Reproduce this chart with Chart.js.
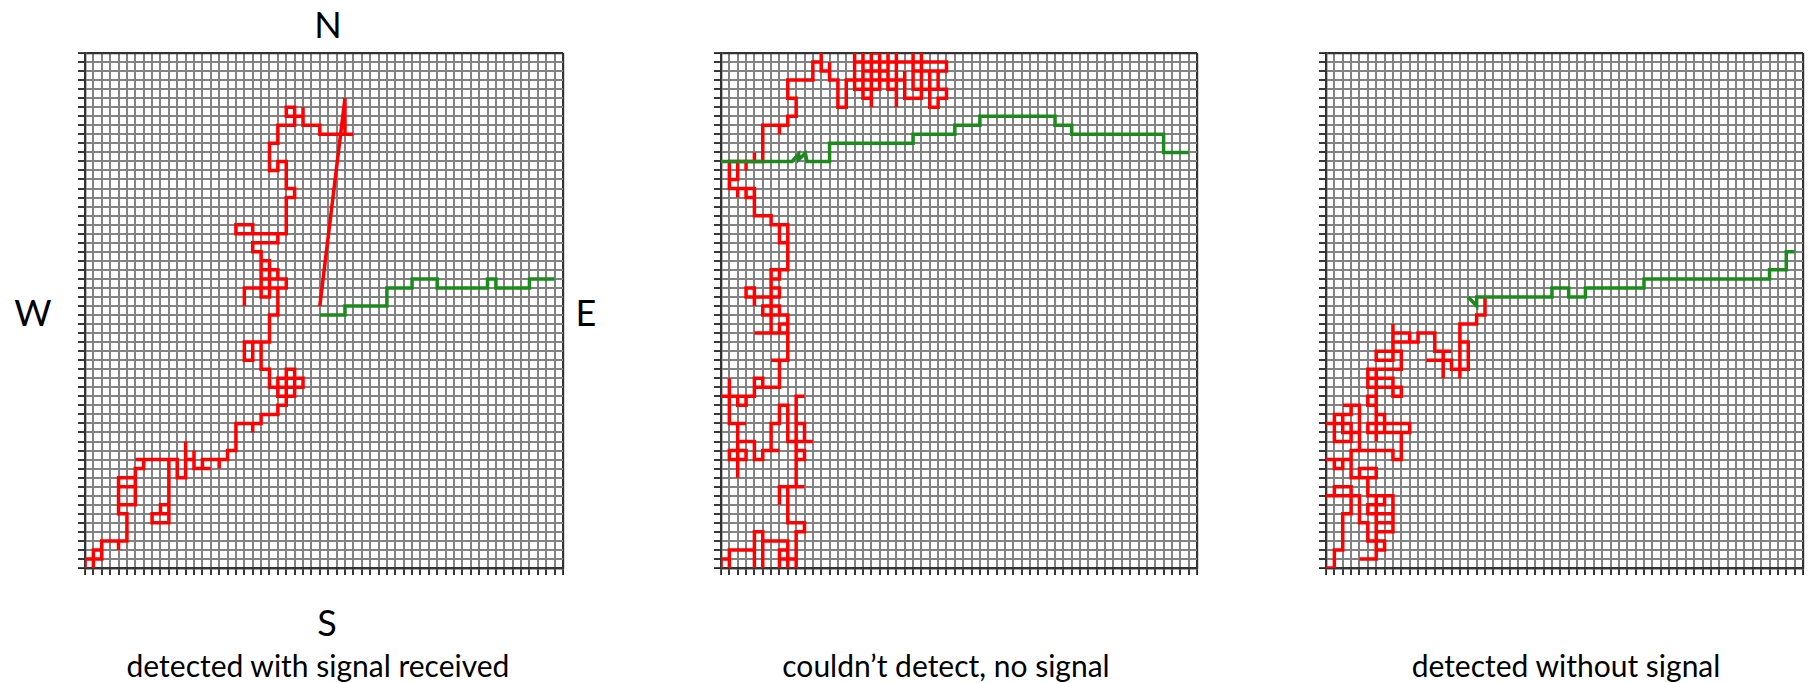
<!DOCTYPE html>
<html>
<head>
<meta charset="utf-8">
<script src="https://cdn.jsdelivr.net/npm/chart.js@4.4.1/dist/chart.umd.min.js"></script>
<style>
  body { margin: 0; background: #fff; width: 1810px; height: 683px; position: relative; overflow: hidden; font-family: Lato, "Open Sans", sans-serif; }
  .panel { position: absolute; }
  .lbl { position: absolute; transform: translate(-50%, -50%); color: #000; white-space: nowrap; line-height: 1; }
  .compass { font-size: 36px; }
  .caption { font-size: 30px; }
</style>
</head>
<body>
<script>
// grid size (cells)
const gridCols = 57;
const gridRows = 57;

// panel 1 : detected with signal received
const red1 = [[0,0],[0,1],[2,1],[2,2],[1,2],[1,0],[1,2],[2,2],[2,3],[4,3],[4,2],[4,3],[5,3],[5,6],[4,6],[4,10],[6,10],[6,9],[4,9],[4,7],[6,7],[6,11],[7,11],[7,12],[6,12],[10,12],[10,5],[8,5],[8,6],[10,6],[9,6],[9,7],[10,7],[10,12],[11,12],[11,10],[12,10],[12,14],[12,12],[13,12],[13,13],[13,11],[15,11],[14,11],[14,12],[16,12],[16,11],[16,12],[17,12],[17,13],[18,13],[18,16],[20,16],[20,15],[20,16],[21,16],[21,17],[23,17],[23,18],[24,18],[24,22],[25,22],[25,19],[23,19],[23,21],[26,21],[26,20],[22,20],[22,22],[21,22],[21,25],[19,25],[19,23],[20,23],[20,25],[22,25],[22,28],[23,28],[23,31],[19,31],[19,29],[19,31],[24,31],[24,32],[21,32],[21,30],[22,30],[22,34],[21,34],[21,33],[23,33],[23,32],[21,32],[21,35],[20,35],[20,36],[23,36],[23,37],[20,37],[20,38],[18,38],[18,37],[24,37],[24,41],[25,41],[25,42],[24,42],[24,45],[23,45],[23,44],[22,44],[22,47],[23,47],[23,49],[25,49],[25,51],[24,51],[24,50],[26,50],[26,51],[26,49],[28,49],[28,48],[32,48],[31,48],[31,52],[28,29]];
const green1 = [[28,28],[31,28],[31,29],[36,29],[36,31],[39,31],[39,32],[42,32],[42,31],[48,31],[48,32],[49,32],[49,31],[53,31],[53,32],[56,32]];

// panel 2 : couldn't detect, no signal
const red2 = [[0,0],[0,1],[1,1],[1,0],[1,2],[4,2],[4,0],[4,4],[5,4],[5,0],[5,3],[8,3],[8,0],[8,2],[7,2],[7,0],[7,1],[9,1],[9,0],[9,4],[10,4],[10,5],[8,5],[8,9],[7,9],[7,7],[7,9],[10,9],[9,9],[9,13],[10,13],[10,12],[9,12],[9,14],[11,14],[10,14],[10,16],[9,16],[9,19],[10,19],[9,19],[9,14],[8,14],[8,18],[7,18],[7,16],[6,16],[6,13],[7,13],[5,13],[5,12],[4,12],[4,14],[2,14],[2,13],[3,13],[3,12],[1,12],[1,13],[2,13],[2,10],[2,16],[3,16],[1,16],[1,21],[1,19],[0,19],[3,19],[3,18],[2,18],[2,19],[4,19],[4,21],[5,21],[5,20],[4,20],[7,20],[7,23],[6,23],[8,23],[8,27],[7,27],[7,26],[4,26],[8,26],[8,28],[5,28],[5,29],[7,29],[7,28],[6,28],[6,30],[4,30],[4,29],[4,31],[3,31],[3,30],[4,30],[7,30],[7,31],[6,31],[6,26],[6,33],[7,33],[7,32],[6,32],[6,33],[8,33],[8,38],[7,38],[7,36],[8,36],[8,38],[6,38],[6,39],[4,39],[4,42],[3,42],[3,41],[4,41],[4,42],[2,42],[2,41],[2,42],[1,42],[1,45],[2,45],[2,43],[1,43],[1,45],[3,45],[3,44],[3,45],[4,45],[4,46],[4,45],[5,45],[5,49],[8,49],[7,49],[7,48],[7,49],[8,49],[8,50],[9,50],[9,52],[8,52],[8,54],[11,54],[11,56],[12,56],[12,57],[12,55],[13,55],[13,54],[13,56],[13,54],[14,54],[14,51],[15,51],[15,54],[16,54],[16,57],[16,53],[19,53],[19,57],[18,57],[18,51],[18,52],[17,52],[17,57],[17,55],[20,55],[20,57],[20,53],[21,53],[21,51],[21,57],[21,56],[16,56],[27,56],[27,55],[23,55],[23,57],[23,53],[27,53],[27,52],[26,52],[26,51],[25,51],[25,55],[26,55],[26,53],[24,53],[24,57],[24,52],[22,52],[22,55],[22,54],[16,54]];
const green2 = [[0,45],[8.5,45],[9.3,45.8],[9.3,45.2],[10.1,45.9],[10.3,45],[13,45],[13,47],[23,47],[23,48],[28,48],[28,49],[31,49],[31,50],[40,50],[40,49],[42,49],[42,48],[53,48],[53,46],[56,46]];

// panel 3 : detected without signal
const red3 = [[0,0],[1,0],[1,2],[2,2],[2,6],[3,6],[3,9],[1,9],[1,8],[0,8],[4,8],[4,5],[5,5],[5,3],[7,3],[7,2],[6,2],[6,1],[4,1],[6,1],[6,8],[8,8],[8,4],[6,4],[6,5],[8,5],[8,6],[5,6],[5,7],[7,7],[7,8],[5,8],[5,10],[4,10],[4,11],[6,11],[6,10],[3,10],[3,12],[2,12],[2,11],[1,11],[1,12],[0,12],[3,12],[3,13],[4,13],[4,15],[2,15],[2,17],[1,17],[1,14],[3,14],[3,16],[0,16],[1,16],[1,17],[3,17],[3,18],[2,18],[4,18],[4,13],[8,13],[8,12],[9,12],[9,15],[5,15],[5,16],[10,16],[10,15],[7,15],[7,17],[6,17],[6,14],[6,19],[5,19],[5,18],[6,18],[6,22],[5,22],[5,20],[9,20],[9,19],[8,19],[8,21],[5,21],[5,22],[9,22],[9,24],[6,24],[6,23],[8,23],[8,27],[8,26],[10,26],[10,25],[8,25],[10,25],[11,25],[11,26],[13,26],[13,24],[15,24],[14,24],[14,21],[14,23],[12,23],[15,23],[15,22],[17,22],[17,25],[16,25],[16,21],[16,27],[18,27],[18,28],[19,28],[19,30]];
const green3 = [[17,30],[18,29],[18,30],[27,30],[27,31],[29,31],[29,30],[31,30],[31,31],[38,31],[38,32],[53,32],[53,33],[55,33],[55,35],[56,35]];

const captions = ['detected with signal received', 'couldn\u2019t detect, no signal', 'detected without signal'];
const compass = ['N', 'W', 'E', 'S'];

// layout (pixels)
const panelBoxes = [
  { left: 85, top: 53, width: 478, height: 515 },
  { left: 721, top: 53, width: 476, height: 515 },
  { left: 1326, top: 53, width: 477, height: 515 }
];
const compassSpots = [[328, 24], [33, 312], [586, 312], [327, 622]];
const captionSpots = [[318, 665], [946, 665], [1566, 665]];
const TICK = 7;
const PAD = 4;

const RED = '#ff0000';
const GREEN = '#1d8a1d';

function toPoints(path) {
  return path.map(p => ({ x: p[0], y: p[1] }));
}

function axis(max) {
  const edge = c => c.tick && (c.tick.value === 0 || c.tick.value === max);
  return {
    type: 'linear',
    min: 0,
    max: max,
    ticks: { display: false, stepSize: 1, maxTicksLimit: 200 },
    grid: {
      color: c => edge(c) ? '#333333' : '#828282',
      lineWidth: c => edge(c) ? 2.2 : 2,
      drawTicks: true,
      tickLength: TICK,
      tickColor: '#222222',
      tickWidth: 1.8
    },
    border: { display: true, color: '#333', width: 2.2 }
  };
}

function drawPanel(i, red, green) {
  const box = panelBoxes[i];
  const wrap = document.createElement('div');
  wrap.className = 'panel';
  wrap.style.left = (box.left - TICK) + 'px';
  wrap.style.top = (box.top - PAD) + 'px';
  const canvas = document.createElement('canvas');
  canvas.width = box.width + TICK + PAD;
  canvas.height = box.height + TICK + PAD;
  wrap.appendChild(canvas);
  document.body.appendChild(wrap);

  new Chart(canvas.getContext('2d'), {
    type: 'scatter',
    data: {
      datasets: [
        { data: toPoints(green), showLine: true, borderColor: GREEN, borderWidth: 3.5, pointRadius: 0, tension: 0, borderJoinStyle: 'miter' },
        { data: toPoints(red), showLine: true, borderColor: RED, borderWidth: 3.5, pointRadius: 0, tension: 0, borderJoinStyle: 'miter' }
      ]
    },
    options: {
      responsive: false,
      animation: false,
      devicePixelRatio: 1,
      layout: { padding: { top: PAD, right: PAD, left: 0, bottom: 0 } },
      plugins: { legend: { display: false }, tooltip: { enabled: false } },
      scales: { x: axis(gridCols), y: axis(gridRows) }
    }
  });
}

drawPanel(0, red1, green1);
drawPanel(1, red2, green2);
drawPanel(2, red3, green3);

// compass letters round the first panel
compass.forEach((t, k) => {
  const d = document.createElement('div');
  d.className = 'lbl compass';
  d.textContent = t;
  d.style.left = compassSpots[k][0] + 'px';
  d.style.top = compassSpots[k][1] + 'px';
  document.body.appendChild(d);
});

// captions under each panel
captions.forEach((t, k) => {
  const d = document.createElement('div');
  d.className = 'lbl caption';
  d.textContent = t;
  d.style.left = captionSpots[k][0] + 'px';
  d.style.top = captionSpots[k][1] + 'px';
  document.body.appendChild(d);
});
</script>
</body>
</html>
